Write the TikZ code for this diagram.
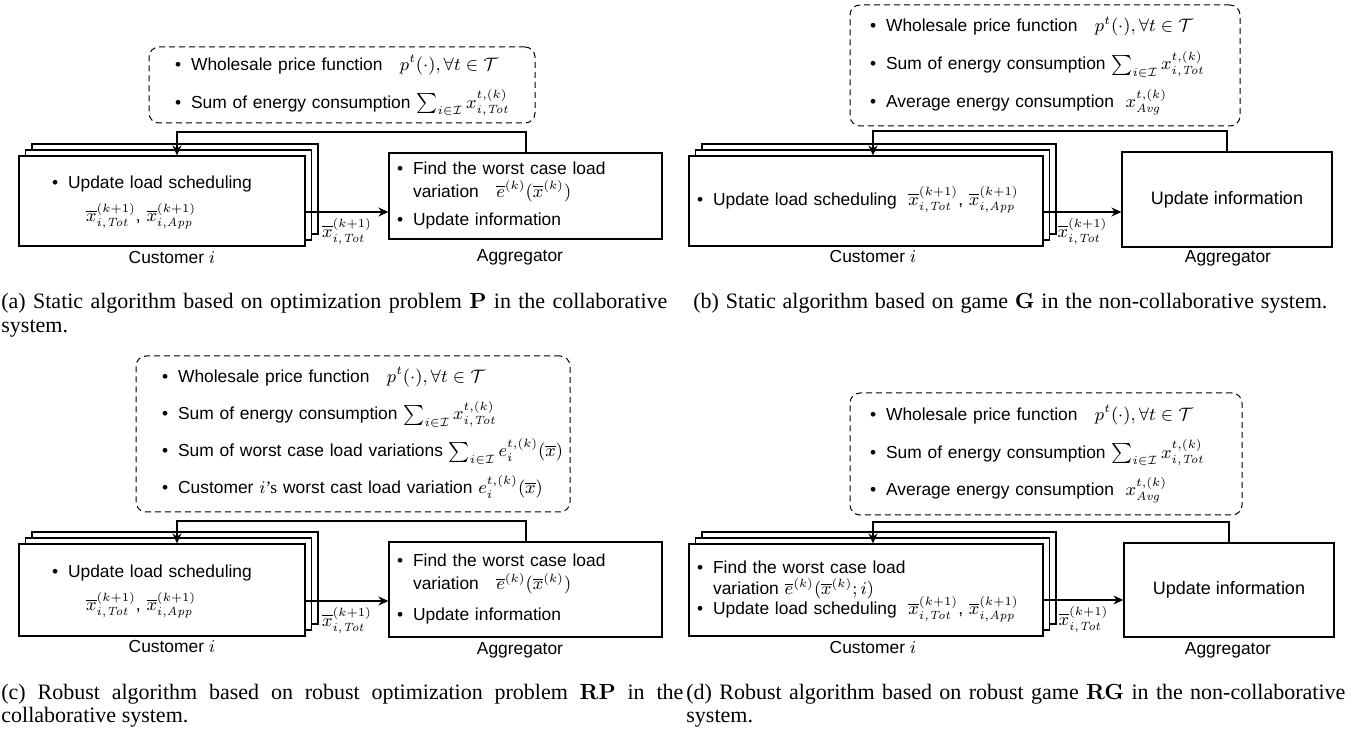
\documentclass[tikz,border=0pt]{standalone}
\usepackage[no-math]{fontspec}
\setmainfont{Liberation Sans}
\newfontfamily\capfont{Liberation Serif}
\usetikzlibrary{arrows.meta}

\newcommand{\xb}{\overline{x}}
\newcommand{\eb}{\overline{e}}

\tikzset{
  every node/.style={font=\fontsize{8.7}{10.4}\selectfont},
  infobox/.style={draw, line width=0.5pt, densely dashed, rounded corners=5pt, align=left, inner ysep=0pt},
  stackbox/.style={draw, line width=0.6pt, fill=white, inner ysep=0pt},
  aggbox/.style={draw, line width=0.6pt, inner ysep=0pt},
  flow/.style={line width=1pt, -{Stealth[length=5pt,width=4.5pt]}},
  capline/.style={font=\capfont\fontsize{11}{12}\selectfont, anchor=base west, inner sep=0pt},
  lbl/.style={inner sep=0pt}
}

\begin{document}
\begin{tikzpicture}[x=0.5pt,y=-0.5pt]
\useasboundingbox (0,0) rectangle (1361,732);

% (a) static, collaborative
\node[infobox, text width=167pt, inner xsep=13pt, minimum height=38pt] (infoA) at (342,85) {%
\begin{tabular}{@{}l@{\hspace{5pt}}l@{}}
\textbullet & Wholesale price function\quad\smash{$p^t(\cdot),\forall t\in\mathcal{T}$}\\[8.6pt]
\textbullet & Sum of energy consumption\ \smash{$\sum_{i\in\mathcal{I}} x^{t,(k)}_{i,\mathit{Tot}}$}
\end{tabular}};
\node[stackbox, minimum width=143pt, minimum height=45pt] (custAback) at (175,189) {};
\node[stackbox, minimum width=143pt, minimum height=45pt] (custAmid) at (168.5,195) {};
\node[stackbox, text width=110pt, inner xsep=16.5pt, minimum height=45pt, align=left] (custA) at (162,201) {%
\begin{tabular}{@{}l@{\hspace{5pt}}l@{}}
\textbullet & Update load scheduling\\[6.1pt]
 & \hspace{9pt}\smash{$\xb^{(k+1)}_{i,\mathit{Tot}}$, $\xb^{(k+1)}_{i,\mathit{App}}$}
\end{tabular}};
\node[aggbox, text width=128.5pt, inner xsep=4pt, minimum height=43pt, align=left] (aggA) at (525.5,196) {%
\begin{tabular}{@{}l@{\hspace{5pt}}l@{}}
\textbullet & Find the worst case load\\[1pt]
 & variation\quad\smash{$\eb^{(k)}(\xb^{(k)})$}\\[4pt]
\textbullet & Update information
\end{tabular}};
\node[lbl] (custAlab) at (172,258) {Customer $i$};
\node[lbl] (aggAlab) at (520,257) {Aggregator};
\coordinate (outA) at ([yshift=-5.5pt]custA.east);
\draw[flow] (outA) -- (outA -| aggA.west) node[midway, below=3pt, lbl] (xA) {$\xb^{(k+1)}_{i,\mathit{Tot}}$};
\draw[flow] (aggA.north) -- ++(0,-20) -| ([xshift=7.5pt]custA.north);

% (b) static, non-collaborative
\node[infobox, text width=175pt, inner xsep=10pt, minimum height=60.5pt] (infoB) at (1045,65.5) {%
\begin{tabular}{@{}l@{\hspace{5pt}}l@{}}
\textbullet & Wholesale price function\quad\smash{$p^t(\cdot),\forall t\in\mathcal{T}$}\\[8.6pt]
\textbullet & Sum of energy consumption\ \smash{$\sum_{i\in\mathcal{I}} x^{t,(k)}_{i,\mathit{Tot}}$}\\[8.6pt]
\textbullet & Average energy consumption\ \ \smash{$x^{t,(k)}_{\mathit{Avg}}$}
\end{tabular}};
\node[stackbox, minimum width=177pt, minimum height=45pt] (custBback) at (879,189) {};
\node[stackbox, minimum width=177pt, minimum height=45pt] (custBmid) at (872.5,195) {};
\node[stackbox, text width=169pt, inner xsep=4pt, minimum height=45pt, align=left] (custB) at (866,201) {%
\begin{tabular}{@{}l@{\hspace{5pt}}l@{}}
\textbullet & Update load scheduling\ \ \smash{$\xb^{(k+1)}_{i,\mathit{Tot}}$, $\xb^{(k+1)}_{i,\mathit{App}}$}
\end{tabular}};
\node[aggbox, minimum width=105pt, minimum height=47.5pt, font=\fontsize{9}{11}\selectfont] (aggB) at (1227,199.5) {Update information};
\node[lbl] (custBlab) at (873,257) {Customer $i$};
\node[lbl] (aggBlab) at (1228,258) {Aggregator};
\coordinate (outB) at ([yshift=-5.5pt]custB.east);
\draw[flow] (outB) -- (outB -| aggB.west) node[midway, below=3pt, lbl] (xB) {$\xb^{(k+1)}_{i,\mathit{Tot}}$};
\draw[flow] (aggB.north) -- ++(0,-20) -| ([xshift=3.5pt]custB.north);

% (c) robust, collaborative
\node[infobox, text width=191pt, inner xsep=13pt, minimum height=78pt] (infoC) at (353,434) {%
\begin{tabular}{@{}l@{\hspace{5pt}}l@{}}
\textbullet & Wholesale price function\quad\smash{$p^t(\cdot),\forall t\in\mathcal{T}$}\\[8.2pt]
\textbullet & Sum of energy consumption\ \smash{$\sum_{i\in\mathcal{I}} x^{t,(k)}_{i,\mathit{Tot}}$}\\[8.2pt]
\textbullet & Sum of worst case load variations\ \smash{$\sum_{i\in\mathcal{I}} e^{t,(k)}_i(\xb)$}\\[8.2pt]
\textbullet & Customer $i${\capfont ’s} worst cast load variation\ \smash{$e^{t,(k)}_i(\xb)$}
\end{tabular}};
\node[stackbox, minimum width=143pt, minimum height=46pt] (custCback) at (175,578) {};
\node[stackbox, minimum width=143pt, minimum height=46pt] (custCmid) at (168.5,584) {};
\node[stackbox, text width=110pt, inner xsep=16.5pt, minimum height=46pt, align=left] (custC) at (162,590) {%
\begin{tabular}{@{}l@{\hspace{5pt}}l@{}}
\textbullet & Update load scheduling\\[6.1pt]
 & \hspace{9pt}\smash{$\xb^{(k+1)}_{i,\mathit{Tot}}$, $\xb^{(k+1)}_{i,\mathit{App}}$}
\end{tabular}};
\node[aggbox, text width=128.5pt, inner xsep=4pt, minimum height=47.5pt, align=left] (aggC) at (525.5,589.5) {%
\begin{tabular}{@{}l@{\hspace{5pt}}l@{}}
\textbullet & Find the worst case load\\[1pt]
 & variation\quad\smash{$\eb^{(k)}(\xb^{(k)})$}\\[5pt]
\textbullet & Update information
\end{tabular}};
\node[lbl] (custClab) at (172,647) {Customer $i$};
\node[lbl] (aggClab) at (520,650) {Aggregator};
\coordinate (outC) at ([yshift=-5.5pt]custC.east);
\draw[flow] (outC) -- (outC -| aggC.west) node[midway, below=3pt, lbl] (xC) {$\xb^{(k+1)}_{i,\mathit{Tot}}$};
\draw[flow] (aggC.north) -- ++(0,-20) -| ([xshift=7.5pt]custC.north);

% (d) robust, non-collaborative
\node[infobox, text width=176pt, inner xsep=10pt, minimum height=61pt] (infoD) at (1046,454) {%
\begin{tabular}{@{}l@{\hspace{5pt}}l@{}}
\textbullet & Wholesale price function\quad\smash{$p^t(\cdot),\forall t\in\mathcal{T}$}\\[8.4pt]
\textbullet & Sum of energy consumption\ \smash{$\sum_{i\in\mathcal{I}} x^{t,(k)}_{i,\mathit{Tot}}$}\\[8.4pt]
\textbullet & Average energy consumption\ \ \smash{$x^{t,(k)}_{\mathit{Avg}}$}
\end{tabular}};
\node[stackbox, minimum width=177pt, minimum height=46pt] (custDback) at (879,578) {};
\node[stackbox, minimum width=177pt, minimum height=46pt] (custDmid) at (872.5,584) {};
\node[stackbox, text width=169pt, inner xsep=4pt, minimum height=46pt, align=left] (custD) at (866,590) {%
\begin{tabular}{@{}l@{\hspace{5pt}}l@{}}
\textbullet & Find the worst case load\\[0pt]
 & variation \smash{$\eb^{(k)}(\xb^{(k)};i)$}\\[-0.5pt]
\textbullet & Update load scheduling\ \ \smash{$\xb^{(k+1)}_{i,\mathit{Tot}}$, $\xb^{(k+1)}_{i,\mathit{App}}$}
\end{tabular}};
\node[aggbox, minimum width=105pt, minimum height=47pt, font=\fontsize{9}{11}\selectfont] (aggD) at (1229,590) {Update information};
\node[lbl] (custDlab) at (873,648) {Customer $i$};
\node[lbl] (aggDlab) at (1228,650) {Aggregator};
\coordinate (outD) at ([yshift=-5pt]custD.east);
\draw[flow] (outD) -- (outD -| aggD.west) node[midway, below=3pt, lbl] (xD) {$\xb^{(k+1)}_{i,\mathit{Tot}}$};
\draw[flow] (aggD.north) -- ++(0,-20) -| ([xshift=3.5pt]custD.north);

% captions
\node[capline] (capA1) at (1,309) {\makebox[333pt][s]{(a) Static algorithm based on optimization problem $\mathbf{P}$ in the collaborative}};
\node[capline] (capA2) at (1,333) {system.};
\node[capline] (capB1) at (693,309) {\makebox[317pt][s]{(b) Static algorithm based on game $\mathbf{G}$ in the non-collaborative system.}};
\node[capline] (capC1) at (1,699) {\makebox[341pt][s]{(c) Robust algorithm based on robust optimization problem $\mathbf{RP}$ in the}};
\node[capline] (capC2) at (1,722) {collaborative system.};
\node[capline] (capD1) at (686,699) {\makebox[329.5pt][s]{(d) Robust algorithm based on robust game $\mathbf{RG}$ in the non-collaborative}};
\node[capline] (capD2) at (686,722) {system.};
\end{tikzpicture}
\end{document}
